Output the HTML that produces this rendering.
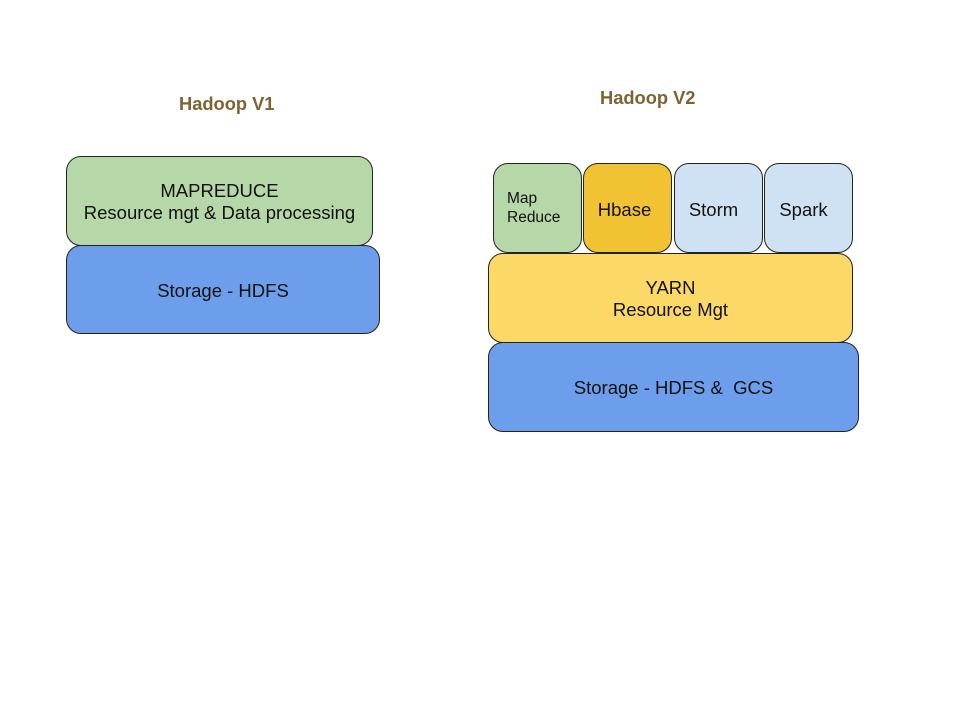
<!DOCTYPE html>
<html><head><meta charset="utf-8"><style>
body{margin:0;width:960px;height:720px;background:#fff;position:relative;overflow:hidden;font-family:"Liberation Sans",sans-serif}
.b{position:absolute;box-sizing:border-box;border:1.3px solid #222;border-radius:15px;display:flex;flex-direction:column;align-items:center;justify-content:center;text-align:center;font-size:18.5px;color:#111;line-height:22px}
.t{position:absolute;font-weight:bold;font-size:18.3px;color:#7f6230}
.g{background:#b6d7a8}.bl{background:#6d9eeb}.y{background:#fcd966}.o{background:#f1c232}.lb{background:#cfe2f3}
</style></head><body>
<div class="t" style="left:179px;top:93px">Hadoop V1</div>
<div class="t" style="left:600px;top:87px">Hadoop V2</div>
<div class="b g" style="left:66px;top:156px;width:307px;height:90px;padding-top:2px">MAPREDUCE<br>Resource mgt &amp; Data processing</div>
<div class="b bl" style="left:66px;top:245px;width:314px;height:89px;padding-top:2px">Storage - HDFS</div>
<div class="b g" style="left:493px;top:163px;width:89px;height:90px;font-size:15.5px;line-height:19px;align-items:flex-start;padding-left:13px;text-align:left">Map<br>Reduce</div>
<div class="b o" style="left:583px;top:163px;width:89px;height:90px;padding-top:3px;padding-right:6px">Hbase</div>
<div class="b lb" style="left:674px;top:163px;width:89px;height:90px;padding-top:3px;padding-right:10px">Storm</div>
<div class="b lb" style="left:764px;top:163px;width:89px;height:90px;padding-top:3px;padding-right:10px">Spark</div>
<div class="b y" style="left:488px;top:253px;width:365px;height:90px;padding-top:2px">YARN<br>Resource Mgt</div>
<div class="b bl" style="left:488px;top:342px;width:371px;height:90px;padding-top:2px">Storage - HDFS &amp;&nbsp; GCS</div>
</body></html>
